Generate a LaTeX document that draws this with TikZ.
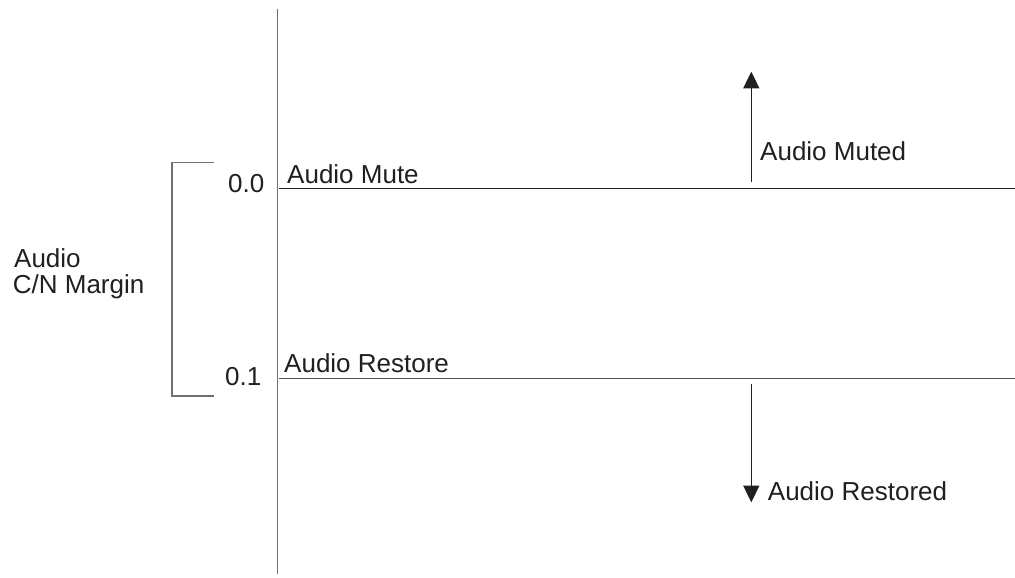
\documentclass[tikz,border=0pt]{standalone}
\usepackage{fontspec}
\setmainfont{Liberation Sans}
\usetikzlibrary{arrows.meta}
\definecolor{ink}{HTML}{231F20}
\definecolor{axisgray}{HTML}{707070}
\definecolor{midgray}{HTML}{505050}
\tikzset{
  lbl/.style={anchor=base west, inner sep=0pt, text=ink, font=\fontsize{26}{30}\selectfont},
  axisline/.style={draw=axisgray, line width=1.4pt},
  levelline/.style={line width=1.4pt},
  flowarrow/.style={draw=ink, line width=1.3pt, -{Triangle[width=16pt,length=16.6pt]}}
}
\begin{document}
\begin{tikzpicture}[x=1pt,y=-1pt]
\useasboundingbox[fill=white] (0,0) rectangle (1015,578);
% axis
\coordinate (axtop) at (277.7,9);
\coordinate (axbot) at (277.7,574);
\draw[axisline] (axtop) -- (axbot);
% level lines
\coordinate (muteL) at (279,188.3);
\coordinate (muteR) at (1015,188.3);
\coordinate (restL) at (279,378.7);
\coordinate (restR) at (1015,378.7);
\draw[levelline, draw=ink] (muteL) -- (muteR);
\draw[levelline, draw=midgray] (restL) -- (restR);
% bracket
\coordinate (brtop) at (214,162.7);
\coordinate (brbot) at (214,396);
\draw[draw=axisgray, line width=1.3pt] (brtop) -| (172,396) -- (brbot);
% arrows
\coordinate (upS) at (751.3,181.7);
\coordinate (upE) at (751.3,71.7);
\coordinate (dnS) at (751.3,384);
\coordinate (dnE) at (751.3,502.3);
\draw[flowarrow] (upS) -- (upE);
\draw[flowarrow] (dnS) -- (dnE);
% labels
\node[lbl] (v00) at (228,192.3) {0.0};
\node[lbl] (v01) at (225,385) {0.1};
\node[lbl] (mute) at (287,183.3) {Audio Mute};
\node[lbl] (restore) at (284,372.7) {Audio Restore};
\node[lbl] (muted) at (760,160) {Audio Muted};
\node[lbl] (restored) at (767.7,500) {Audio Restored};
\node[lbl] (marg1) at (14,267.7) {Audio};
\node[lbl] (marg2) at (12.7,293.3) {C/N Margin};
\end{tikzpicture}
\end{document}
